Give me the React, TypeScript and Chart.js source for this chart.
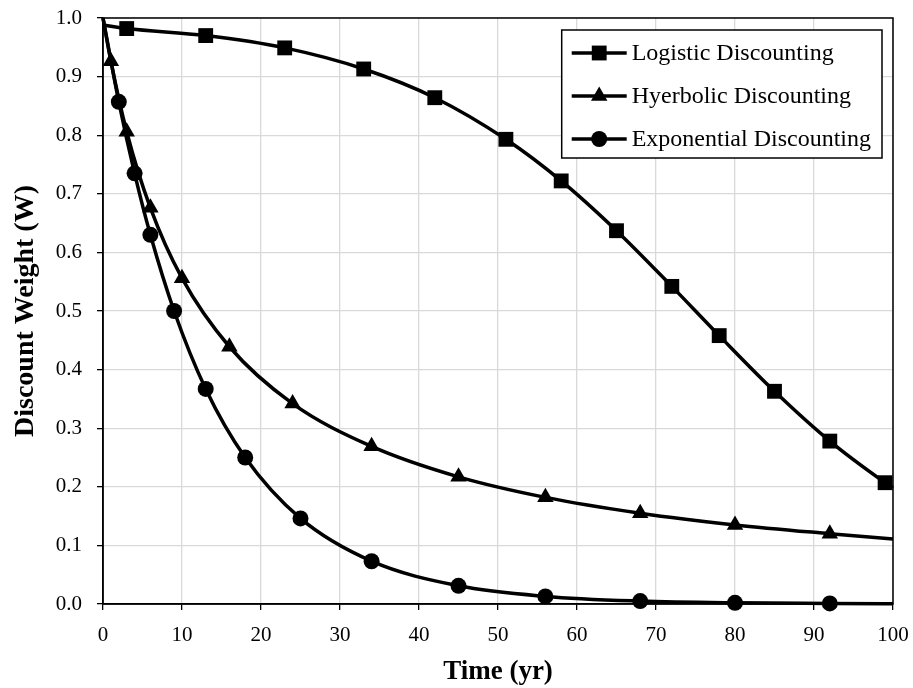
import React, { useEffect, useRef } from 'react';
import { Chart, registerables } from 'chart.js';

Chart.register(...registerables);

const FONT = '"Liberation Serif", "Times New Roman", serif';

// Data
const logisticX = [0, 3, 13, 23, 33, 42, 51, 58, 65, 72, 78, 85, 92, 99, 100];
const logisticY = [0.988, 0.982, 0.970, 0.949, 0.913, 0.864, 0.793, 0.722, 0.637, 0.542, 0.458, 0.363, 0.278, 0.207, 0.198];

const hyperbolicX = [0, 1, 3, 6, 10, 16, 24, 34, 45, 56, 68, 80, 92, 100];
const hyperbolicY = [1.0, 0.926, 0.806, 0.676, 0.556, 0.439, 0.342, 0.269, 0.217, 0.182, 0.155, 0.135, 0.120, 0.111];

const exponentialX = [0, 2, 4, 6, 9, 13, 18, 25, 34, 45, 56, 68, 80, 92, 100];
const exponentialY = [1.0, 0.857, 0.735, 0.630, 0.500, 0.367, 0.250, 0.146, 0.073, 0.031, 0.013, 0.005, 0.002, 0.001, 0.0005];

const seriesLabels = ['Logistic Discounting', 'Hyerbolic Discounting', 'Exponential Discounting'];
const xTitle = 'Time (yr)';
const yTitle = 'Discount Weight (W)';

const toPoints = (xs: number[], ys: number[]) => xs.map((x, i) => ({ x, y: ys[i] }));
// markers hidden on the curve's start and end points
const radii = (n: number, r: number) => Array.from({ length: n }, (_, i) => (i === 0 || i === n - 1 ? 0 : r));

const legendPlugin = {
  id: 'boxLegend',
  afterDraw(chart: any) {
    const { ctx, chartArea } = chart;
    const fontSize = 24;
    ctx.save();
    ctx.font = `${fontSize}px ${FONT}`;
    const widths = chart.data.datasets.map((d: any) => ctx.measureText(d.label).width);
    const maxW = Math.max(...widths);
    const sample = 55;
    const padL = 10;
    const gap = 5;
    const padR = 11;
    const rowH = 43;
    const boxW = padL + sample + gap + maxW + padR;
    const boxH = rowH * chart.data.datasets.length - 1;
    const right = chartArea.right - 11;
    const left = right - boxW;
    const top = chartArea.top + 12;
    ctx.fillStyle = '#fff';
    ctx.fillRect(left, top, boxW, boxH);
    ctx.strokeStyle = '#000';
    ctx.lineWidth = 1.5;
    ctx.strokeRect(left, top, boxW, boxH);
    chart.data.datasets.forEach((d: any, i: number) => {
      const cy = top + 23 + i * rowH;
      const x0 = left + padL;
      ctx.strokeStyle = '#000';
      ctx.lineWidth = 3.5;
      ctx.beginPath();
      ctx.moveTo(x0, cy);
      ctx.lineTo(x0 + sample, cy);
      ctx.stroke();
      ctx.fillStyle = '#000';
      const cx = x0 + sample / 2;
      const r = d.legendRadius;
      ctx.beginPath();
      if (d.pointStyle === 'rect') {
        const s = r * Math.SQRT1_2;
        ctx.rect(cx - s, cy - s, 2 * s, 2 * s);
      } else if (d.pointStyle === 'triangle') {
        ctx.moveTo(cx, cy - r);
        ctx.lineTo(cx + Math.sin((2 * Math.PI) / 3) * r, cy - Math.cos((2 * Math.PI) / 3) * r);
        ctx.lineTo(cx + Math.sin((4 * Math.PI) / 3) * r, cy - Math.cos((4 * Math.PI) / 3) * r);
        ctx.closePath();
      } else {
        ctx.arc(cx, cy, r, 0, Math.PI * 2);
      }
      ctx.fill();
      ctx.fillStyle = '#000';
      ctx.textBaseline = 'middle';
      ctx.textAlign = 'left';
      ctx.fillText(d.label, x0 + sample + gap, cy + 1);
    });
    ctx.restore();
  },
};

const framePlugin = {
  id: 'frame',
  afterDatasetsDraw(chart: any) {
    const { ctx, chartArea } = chart;
    ctx.save();
    ctx.strokeStyle = '#000';
    ctx.lineWidth = 1.5;
    ctx.strokeRect(chartArea.left, chartArea.top, chartArea.right - chartArea.left, chartArea.bottom - chartArea.top);
    ctx.restore();
  },
};

export default function App() {
  const ref = useRef<HTMLCanvasElement>(null);
  useEffect(() => {
    document.body.style.margin = '0';
    const common = {
      borderColor: '#000',
      backgroundColor: '#000',
      pointBackgroundColor: '#000',
      pointBorderColor: '#000',
      pointBorderWidth: 0,
      borderWidth: 3.5,
      cubicInterpolationMode: 'monotone' as const,
      showLine: true,
      fill: false,
      clip: false as any,
    };
    const chart = new Chart(ref.current!, {
      type: 'scatter',
      data: {
        datasets: [
          {
            ...common,
            label: seriesLabels[0],
            data: toPoints(logisticX, logisticY),
            pointStyle: 'rect',
            pointRadius: radii(logisticX.length, 10.5),
            legendRadius: 10.5,
          } as any,
          {
            ...common,
            label: seriesLabels[1],
            data: toPoints(hyperbolicX, hyperbolicY),
            pointStyle: 'triangle',
            pointRadius: radii(hyperbolicX.length, 9.5),
            legendRadius: 9.5,
          } as any,
          {
            ...common,
            label: seriesLabels[2],
            data: toPoints(exponentialX, exponentialY),
            pointStyle: 'circle',
            pointRadius: radii(exponentialX.length, 8),
            legendRadius: 8,
          } as any,
        ],
      },
      options: {
        animation: false,
        responsive: false,
        layout: { padding: { top: 18, right: 20, left: 0, bottom: 0 } },
        plugins: {
          legend: { display: false },
          tooltip: { enabled: false },
        },
        scales: {
          x: {
            type: 'linear',
            min: 0,
            max: 100,
            afterFit: (s: any) => {
              s.height = 84;
              s.paddingLeft = 0;
              s.paddingRight = 0;
            },
            ticks: {
              stepSize: 10,
              color: '#000',
              font: { family: FONT, size: 21 },
              padding: 13,
              maxRotation: 0,
            },
            grid: {
              color: '#d9d9d9',
              lineWidth: 1.3,
              tickColor: '#000',
              tickLength: 6,
            },
            border: { color: '#000', width: 1.5 },
            title: {
              display: true,
              text: xTitle,
              color: '#000',
              font: { family: FONT, size: 27, weight: 'bold' },
              padding: { top: 0, bottom: 0 },
            },
          },
          y: {
            type: 'linear',
            min: 0,
            max: 1,
            afterFit: (s: any) => {
              s.width = 103;
              s.paddingTop = 0;
              s.paddingBottom = 0;
            },
            ticks: {
              stepSize: 0.1,
              color: '#000',
              font: { family: FONT, size: 21 },
              padding: 15,
              callback: (v: any) => Number(v).toFixed(1),
            },
            grid: {
              color: '#d9d9d9',
              lineWidth: 1.3,
              tickColor: '#000',
              tickLength: 6,
            },
            border: { color: '#000', width: 1.5 },
            title: {
              display: true,
              text: yTitle,
              color: '#000',
              font: { family: FONT, size: 28, weight: 'bold' },
              padding: { top: 9, bottom: 0 },
            },
          },
        },
      },
      plugins: [framePlugin, legendPlugin],
    });
    return () => chart.destroy();
  }, []);
  return (
    <div style={{ width: 913, height: 688 }}>
      <canvas ref={ref} width={913} height={688} style={{ display: 'block' }} />
    </div>
  );
}
